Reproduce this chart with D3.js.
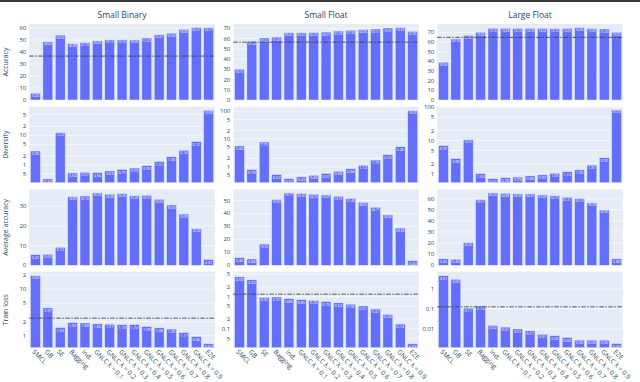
<!DOCTYPE html>
<html>
<head>
<meta charset="utf-8">
<script src="https://cdn.jsdelivr.net/npm/d3@7"></script>
<style>
  body { margin: 0; background: #fff; }
  text { font-family: "Open Sans", sans-serif; }
</style>
</head>
<body>
<div id="chart"></div>
<script>
//visual dimensions
const width = 640;
const height = 382;

//categories
const methods = ["SMCL", "GB", "SE", "Bagging", "Ind.",
  "GNLC λ = 0.1", "GNLC λ = 0.2", "GNLC λ = 0.3", "GNLC λ = 0.4", "GNLC λ = 0.5",
  "GNLC λ = 0.6", "GNLC λ = 0.7", "GNLC λ = 0.8", "GNLC λ = 0.9", "E2E"];
const datasets = ["Small Binary", "Small Float", "Large Float"];
const metrics = ["Accuracy", "Diversity", "Average accuracy", "Train loss"];

//accuracy
const accSmallBinary = [5.63, 48.62, 54.04, 46.88, 47.70, 49.26, 50.12, 50.16, 50.08, 51.62, 54.41, 55.64, 58.86, 60.31, 60.17];
const accSmallFloat = [30.10, 57.24, 60.52, 61.44, 65.61, 65.67, 65.75, 66.31, 67.28, 67.94, 68.86, 69.31, 70.31, 70.69, 67.06];
const accLargeFloat = [39.04, 63.16, 66.88, 70.06, 74.16, 74.08, 74.10, 74.09, 74.04, 73.72, 74.05, 74.85, 73.83, 73.40, 70.02];
const accRef = [36.6, 56.5, 64.8];

//diversity (log)
const divSmallBinary = [2.96, 0.34, 12.29, 0.54, 0.57, 0.56, 0.63, 0.71, 0.79, 0.95, 1.31, 1.90, 3.14, 6.12, 69.8];
const divSmallFloat = [5.60, 0.78, 7.75, 0.52, 0.37, 0.43, 0.49, 0.57, 0.68, 0.84, 1.12, 1.73, 2.72, 5.26, 104.5];
const divLargeFloat = [6.97, 2.86, 10.55, 1.00, 0.71, 0.76, 0.79, 0.86, 0.92, 1.03, 1.15, 1.30, 1.81, 3.02, 83.0];
const divRange = [[0.254, 91.9], [0.264, 146.6], [0.536, 104]];

//average accuracy
const avgSmallBinary = [5.41, 5.60, 9.12, 34.80, 35.16, 36.74, 36.08, 36.36, 35.30, 35.51, 33.50, 30.60, 25.99, 18.58, 2.97];
const avgSmallFloat = [5.85, 4.86, 16.35, 50.59, 55.77, 55.30, 54.73, 54.20, 53.19, 51.46, 48.50, 44.71, 38.98, 28.68, 3.60];
const avgLargeFloat = [5.81, 5.45, 20.45, 59.17, 65.20, 64.88, 64.30, 64.32, 63.40, 62.75, 61.31, 60.10, 56.20, 49.85, 5.80];

//train loss (log)
const lossSmallBinary = [19.6, 3.97, 1.50, 1.92, 1.88, 1.80, 1.77, 1.73, 1.74, 1.58, 1.48, 1.39, 1.17, 0.96, 0.67];
const lossSmallFloat = [4.09, 3.32, 0.95, 0.97, 0.86, 0.80, 0.76, 0.70, 0.64, 0.58, 0.51, 0.41, 0.28, 0.14, 0.034];
const lossLargeFloat = [4.51, 3.00, 0.11, 0.14, 0.0152, 0.0125, 0.0101, 0.0081, 0.0055, 0.0047, 0.0038, 0.0028, 0.0028, 0.0028, 0.0019];
const lossRef = [2.39, 1.19, 0.128];
const lossRange = [[0.553, 23.8], [0.0258, 5.94], [0.00118, 7.2]];

//panel layout
const colLeft = [29.3, 233.3, 437.3];
const rowTop = [24, 106.7, 189.3, 271.7];
const plotW = 185.5;
const plotH = 76;
const textColor = "#2a3f5f";

const svg = d3.select("#chart")
  .append("svg")
  .attr("width", width)
  .attr("height", height);

svg.append("rect").attr("width", width).attr("height", height).attr("fill", "#fff");
svg.append("rect").attr("width", width).attr("height", 2).attr("fill", "#3a3a3a");

const rows = [
  { values: [accSmallBinary, accSmallFloat, accLargeFloat], log: false, ref: accRef },
  { values: [divSmallBinary, divSmallFloat, divLargeFloat], log: true, range: divRange },
  { values: [avgSmallBinary, avgSmallFloat, avgLargeFloat], log: false },
  { values: [lossSmallBinary, lossSmallFloat, lossLargeFloat], log: true, range: lossRange, ref: lossRef }
];

const x = d3.scaleBand()
  .domain(methods)
  .range([0, plotW])
  .paddingInner(0.2)
  .paddingOuter(0.1);

//log ticks in plotly style: majors plus 2 and 5 when the span is short
function logTicks(domain) {
  const lo = Math.log10(domain[0]), hi = Math.log10(domain[1]);
  const span = hi - lo;
  const ticks = [];
  for (let k = Math.floor(lo); k <= Math.ceil(hi); k++) {
    const mults = span > 3 ? [1] : [1, 2, 5];
    mults.forEach(m => {
      const v = m * Math.pow(10, k);
      if (v >= domain[0] && v <= domain[1]) {
        ticks.push({ v: v, label: m === 1 ? d3.format("~g")(+v.toPrecision(3)) : String(m) });
      }
    });
  }
  return ticks;
}

rows.forEach((row, r) => {
  row.values.forEach((vals, c) => {
    const g = svg.append("g").attr("transform", `translate(${colLeft[c]},${rowTop[r]})`);

    let y, ticks;
    if (row.log) {
      y = d3.scaleLog().domain(row.range[c]).range([plotH, 0]);
      ticks = logTicks(row.range[c]);
    } else {
      const top = d3.max(vals) * 1.05;
      y = d3.scaleLinear().domain([0, top]).range([plotH, 0]);
      ticks = d3.range(0, top, 10).map(v => ({ v: v, label: String(v) }));
    }

    //background
    g.append("rect").attr("width", plotW).attr("height", plotH).attr("fill", "#E5ECF6");

    //grid
    g.selectAll(".grid").data(ticks).enter().append("line")
      .attr("x1", 0).attr("x2", plotW)
      .attr("y1", d => y(d.v)).attr("y2", d => y(d.v))
      .attr("stroke", "#fff").attr("stroke-width", 0.6);

    //tick labels
    g.selectAll(".ytick").data(ticks).enter().append("text")
      .attr("x", -3).attr("y", d => y(d.v)).attr("dy", "0.35em")
      .attr("text-anchor", "end")
      .attr("font-size", 6).attr("fill", textColor)
      .text(d => d.label);

    //bars
    g.selectAll(".bar").data(vals).enter().append("rect")
      .attr("x", (d, i) => x(methods[i]))
      .attr("width", x.bandwidth())
      .attr("y", d => Math.max(0, y(d)))
      .attr("height", d => plotH - Math.max(0, y(d)))
      .attr("fill", "#636EFA")
      .attr("stroke", "#E5ECF6").attr("stroke-width", 0.5);

    //bar text
    g.selectAll(".btext").data(vals).enter().append("text")
      .attr("x", (d, i) => x(methods[i]) + x.bandwidth() / 2)
      .attr("text-anchor", "middle")
      .attr("fill", "#fff")
      .each(function(d) {
        const s = d.toFixed(2);
        const fs = Math.min(4.5, x.bandwidth() * 0.9 / (s.length * 0.58));
        d3.select(this)
          .attr("font-size", fs)
          .attr("y", Math.max(0, y(d)) + 1.2 + fs * 0.75)
          .text(s);
      });

    //reference line
    if (row.ref) {
      g.append("line")
        .attr("x1", 0).attr("x2", plotW)
        .attr("y1", y(row.ref[c])).attr("y2", y(row.ref[c]))
        .attr("stroke", "#444").attr("stroke-width", 0.9)
        .attr("stroke-dasharray", "4.5,1.5,1.5,1.5");
    }

    //subplot titles
    if (r === 0) {
      g.append("text")
        .attr("x", plotW / 2).attr("y", -6)
        .attr("text-anchor", "middle")
        .attr("font-size", 8.5).attr("fill", textColor)
        .text(datasets[c]);
    }

    //x labels on last row
    if (r === rows.length - 1) {
      g.selectAll(".xtick").data(methods).enter().append("text")
        .attr("transform", d => `translate(${x(d) + x.bandwidth() / 2 - 2},${plotH + 3}) rotate(45)`)
        .attr("dy", "0.35em")
        .attr("font-size", 6.5).attr("fill", textColor)
        .text(d => d);
    }
  });

  //axis title
  svg.append("text")
    .attr("transform", `translate(7.5,${rowTop[r] + plotH / 2}) rotate(-90)`)
    .attr("text-anchor", "middle")
    .attr("font-size", 7).attr("fill", textColor)
    .text(metrics[r]);
});
</script>
</body>
</html>
